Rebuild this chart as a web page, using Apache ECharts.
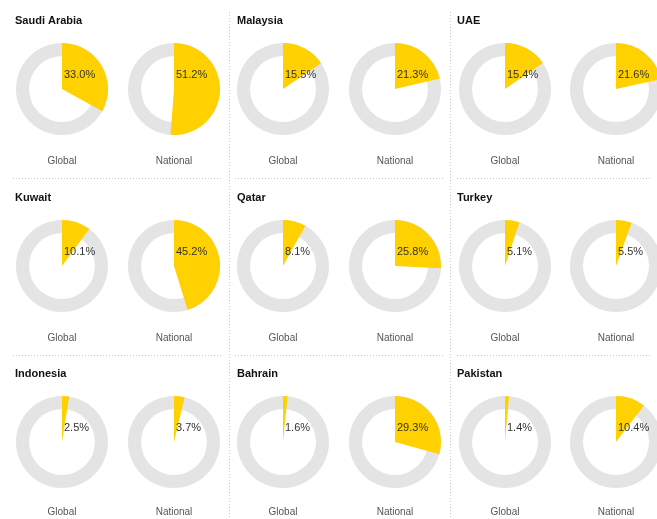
<!DOCTYPE html>
<html>
<head>
<meta charset="utf-8">
<script src="https://cdn.jsdelivr.net/npm/echarts@6/dist/echarts.min.js"></script>
<style>
html,body{margin:0;padding:0;background:#fff;}
#chart{width:657px;height:519px;}
</style>
</head>
<body>
<div id="chart"></div>
<script>
// ---- data ----
const countries = ['Saudi Arabia', 'Malaysia', 'UAE', 'Kuwait', 'Qatar', 'Turkey', 'Indonesia', 'Bahrain', 'Pakistan'];
const globalShare = [33.0, 15.5, 15.4, 10.1, 8.1, 5.1, 2.5, 1.6, 1.4];
const nationalShare = [51.2, 21.3, 21.6, 45.2, 25.8, 5.5, 3.7, 29.3, 10.4];
const ringNames = ['Global', 'National'];

// ---- layout ----
const panelDonutX = [[62, 174], [283, 395], [505, 616]];
const panelTitleX = [15, 237, 457];
const rowCenterY = [89, 266, 442];
const rowTitleY = [21, 198, 374];
const rowNameY = [161, 338, 512];
const R_OUT = 46, R_IN = 33;
const YELLOW = '#ffd100', GREY = '#e4e4e4';

const series = [];
const graphics = [];

countries.forEach((name, i) => {
  const col = i % 3, row = Math.floor(i / 3);
  graphics.push({
    type: 'text', x: panelTitleX[col], y: rowTitleY[row],
    style: { text: name, font: 'bold 11px "Liberation Sans", Arial, sans-serif', fill: '#111', textVerticalAlign: 'middle' }
  });
  [globalShare[i], nationalShare[i]].forEach((v, k) => {
    const cx = panelDonutX[col][k], cy = rowCenterY[row];
    series.push({
      type: 'pie', center: [cx, cy], radius: [R_IN, R_OUT], silent: true, animation: false,
      label: { show: false }, labelLine: { show: false },
      data: [{ value: 1, itemStyle: { color: GREY } }]
    });
    series.push({
      type: 'pie', center: [cx, cy], radius: [0, R_OUT], silent: true, animation: false,
      startAngle: 90, clockwise: true, minAngle: 0,
      label: { show: false }, labelLine: { show: false },
      data: [
        { value: v, itemStyle: { color: YELLOW } },
        { value: 100 - v, itemStyle: { color: 'rgba(0,0,0,0)' } }
      ]
    });
    graphics.push({
      type: 'text', x: cx + 2, y: cy - 14, z: 10,
      style: { text: v.toFixed(1) + '%', font: '11px "Liberation Sans", Arial, sans-serif', fill: '#333', textVerticalAlign: 'middle' }
    });
    graphics.push({
      type: 'text', x: cx, y: rowNameY[row],
      style: { text: ringNames[k], font: '10px "Liberation Sans", Arial, sans-serif', fill: '#555', textAlign: 'center', textVerticalAlign: 'middle' }
    });
  });
});

// separators
const dash = { stroke: '#c8c8c8', lineWidth: 1, lineDash: [1, 2] };
[229.5, 450.5].forEach(x => {
  graphics.push({ type: 'line', shape: { x1: x, y1: 12, x2: x, y2: 519 }, style: dash });
});
[178.5, 355.5].forEach(y => {
  [[13, 222], [235, 445], [457, 652]].forEach(([a, b]) => {
    graphics.push({ type: 'line', shape: { x1: a, y1: y, x2: b, y2: y }, style: dash });
  });
});

const chart = echarts.init(document.getElementById('chart'), null, { renderer: 'canvas' });
chart.setOption({
  backgroundColor: '#fff',
  animation: false,
  series: series,
  graphic: graphics
});
</script>
</body>
</html>
